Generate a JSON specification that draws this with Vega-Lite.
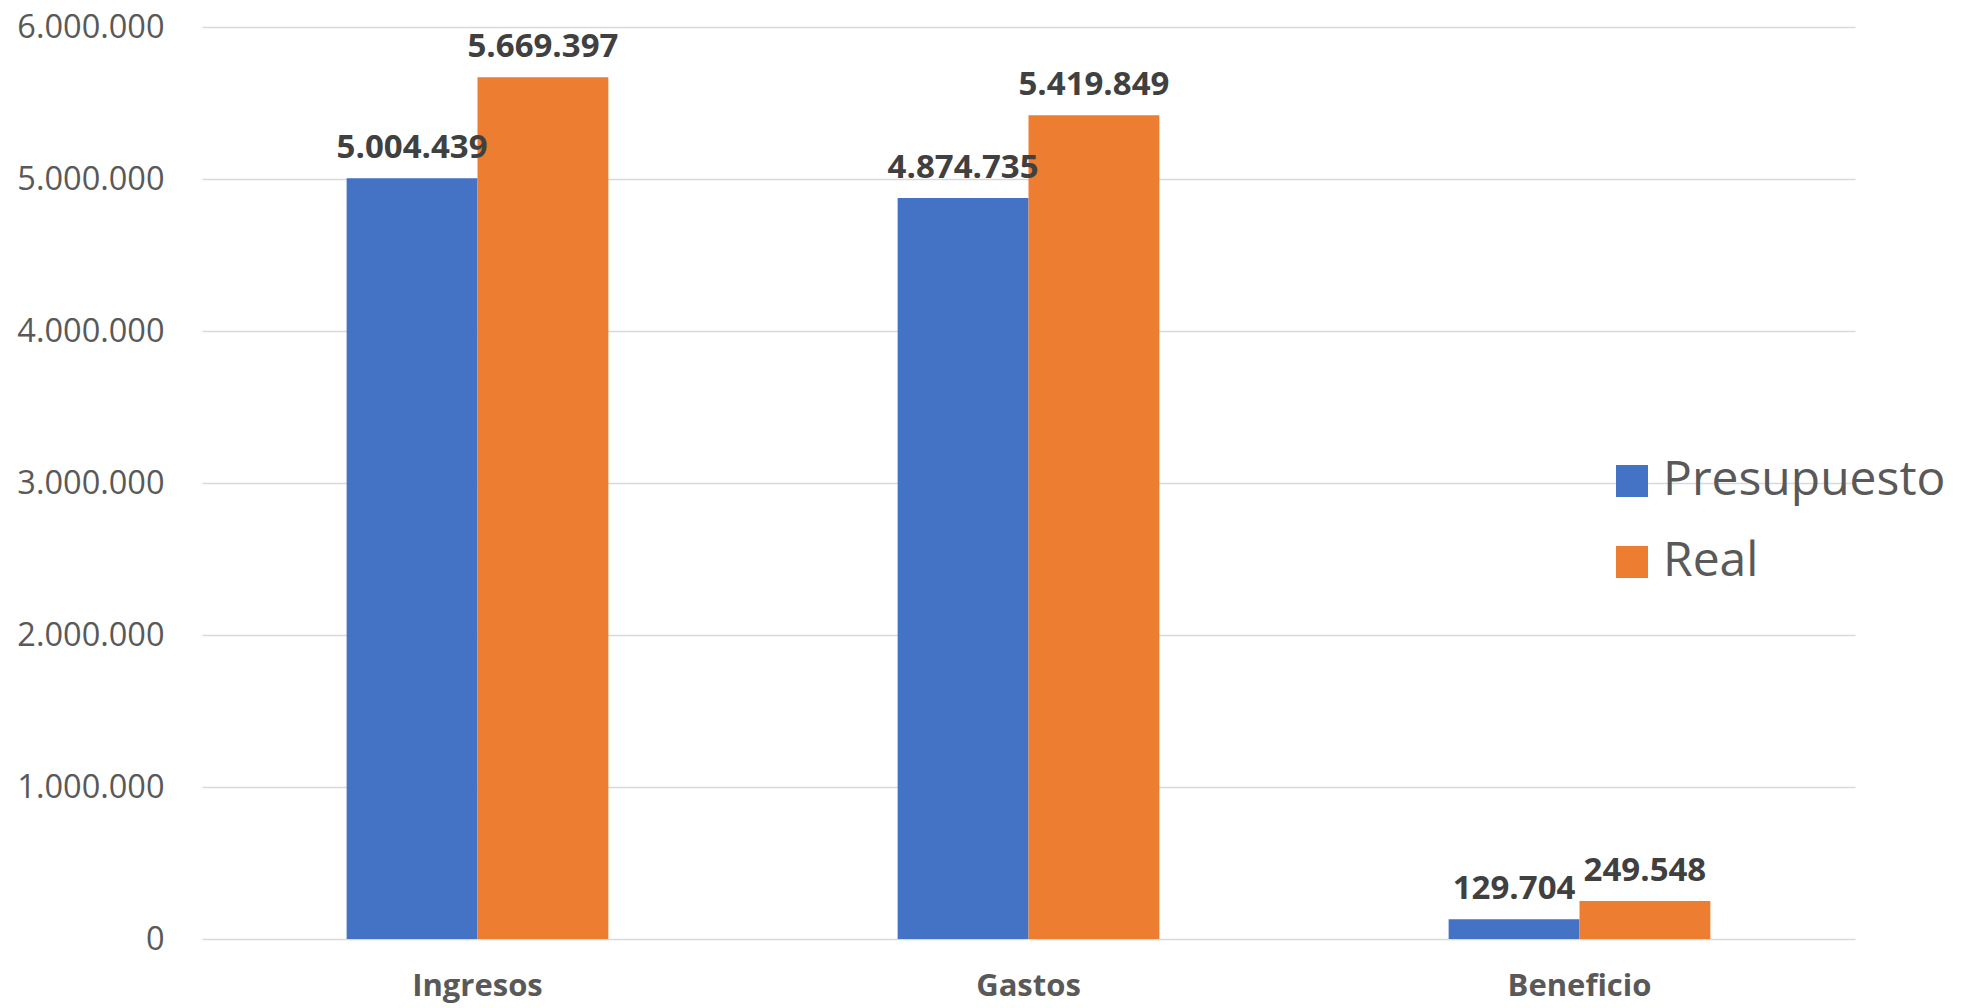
{
  "$schema": "https://vega.github.io/schema/vega-lite/v6.json",
  "width": 1653,
  "height": 912,
  "autosize": "none",
  "padding": {"left": 202, "top": 27, "right": 117, "bottom": 69},
  "background": "white",
  "config": {
    "locale": {"number": {"decimal": ",", "thousands": ".", "grouping": [3], "currency": ["", " €"]}},
    "view": {"stroke": null},
    "font": "Open Sans"
  },
  "data": {
    "values": [
      {"categoria": "Ingresos", "serie": "Presupuesto", "valor": 5004439},
      {"categoria": "Ingresos", "serie": "Real", "valor": 5669397},
      {"categoria": "Gastos", "serie": "Presupuesto", "valor": 4874735},
      {"categoria": "Gastos", "serie": "Real", "valor": 5419849},
      {"categoria": "Beneficio", "serie": "Presupuesto", "valor": 129704},
      {"categoria": "Beneficio", "serie": "Real", "valor": 249548}
    ]
  },
  "encoding": {
    "x": {
      "field": "categoria",
      "type": "nominal",
      "sort": ["Ingresos", "Gastos", "Beneficio"],
      "scale": {"paddingInner": 0.525, "paddingOuter": 0.2625},
      "axis": {
        "title": null,
        "labelAngle": 0,
        "labelFont": "Open Sans",
        "labelFontWeight": "bold",
        "labelFontSize": 31,
        "labelColor": "#595959",
        "labelPadding": 32,
        "ticks": false,
        "domain": false
      }
    },
    "xOffset": {"field": "serie", "type": "nominal", "sort": ["Presupuesto", "Real"]},
    "y": {
      "field": "valor",
      "type": "quantitative",
      "scale": {"domain": [0, 6000000], "nice": false},
      "axis": {
        "title": null,
        "values": [0, 1000000, 2000000, 3000000, 4000000, 5000000, 6000000],
        "format": ",d",
        "labelFont": "Open Sans",
        "labelFontSize": 32.5,
        "labelColor": "#595959",
        "labelPadding": 38,
        "ticks": false,
        "domain": false,
        "gridColor": "#d9d9d9",
        "gridWidth": 1.5
      }
    }
  },
  "layer": [
    {
      "mark": {"type": "bar"},
      "encoding": {
        "color": {
          "field": "serie",
          "type": "nominal",
          "sort": ["Presupuesto", "Real"],
          "scale": {"domain": ["Presupuesto", "Real"], "range": ["#4472C4", "#ED7D31"]},
          "legend": {
            "title": null,
            "orient": "none",
            "legendX": 1406,
            "legendY": 430,
            "padding": 0,
            "symbolType": "square",
            "symbolSize": 1024,
            "symbolStrokeWidth": 0,
            "labelFont": "Open Sans",
            "labelFontSize": 48,
            "labelColor": "#595959",
            "labelOffset": 7,
            "rowPadding": 33,
            "labelLimit": 500
          }
        }
      }
    },
    {
      "mark": {
        "type": "text",
        "font": "Open Sans",
        "fontWeight": "bold",
        "fontSize": 33,
        "color": "#404040",
        "baseline": "alphabetic",
        "dy": -20
      },
      "encoding": {
        "text": {"field": "valor", "type": "quantitative", "format": ",d"}
      }
    }
  ]
}
